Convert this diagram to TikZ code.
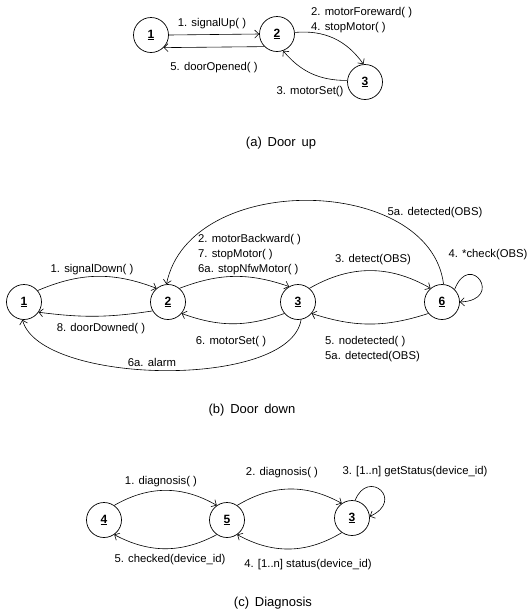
\documentclass[tikz,border=0pt]{standalone}
\usepackage{fontspec}
\setmainfont{Liberation Sans}
\usetikzlibrary{arrows.meta}
\tikzset{
  st/.style={circle, draw, line width=0.7pt, minimum size=35pt, inner sep=0pt, font=\fontsize{12}{12}\selectfont\bfseries},
  lbl/.style={font=\fontsize{11.3}{15}\selectfont, inner sep=0pt},
  captxt/.style={font=\fontsize{13}{15}\selectfont, inner sep=0pt},
  tr/.style={draw, line width=0.6pt, -{Straight Barb[length=4pt,width=8pt]}}
}
\newcommand{\sn}[1]{\underline{#1}}
\begin{document}
\begin{tikzpicture}[x=1pt,y=-1pt]
\useasboundingbox[fill=white] (0,0) rectangle (528,614);
% (a)
\node[st] (A1) at (151,35) {\sn{1}};
\node[st] (A2) at (277,34) {\sn{2}};
\node[st] (A3) at (365,82) {\sn{3}};
\draw[tr] (A1.east) -- (A2.west);
\draw[tr] (A2.-135) -- (A1.-45);
\draw[tr] (A2.5) to[bend left=30] (A3.95);
\draw[tr] (A3.175) to[bend left=25] (A2.-70);
\node[lbl] (la1) at (212,24) {1. signalUp( )};
\node[lbl] (la5) at (214,68) {5. doorOpened( )};
\node[lbl, anchor=west, align=left] (la2) at (311,20.5) {2. motorForeward( )\\4. stopMotor( )};
\node[lbl] (la3) at (310,92) {3. motorSet()};
\node[captxt] (capa) at (281,143) {(a)\, Door\, up};
% (b)
\node[st] (B1) at (24,302) {\sn{1}};
\node[st] (B2) at (168,302) {\sn{2}};
\node[st] (B3) at (298,302) {\sn{3}};
\node[st] (B6) at (442,302) {\sn{6}};
\draw[tr] (B1.40) to[bend left=22] (B2.130);
\draw[tr] (B2.-150) to[bend left=8] (B1.-35);
\draw[tr] (B3.-80) .. controls (290,390) and (40,385) .. (B1.-95);
\draw[tr] (B2.50) to[bend left=20] (B3.120);
\draw[tr] (B3.-140) to[bend left=20] (B2.-40);
\draw[tr] (B3.50) to[bend left=30] (B6.130);
\draw[tr] (B6.-140) to[bend left=18] (B3.-40);
\draw[tr] (B6.85) .. controls (430,175) and (190,170) .. (B2.95);
\draw[tr] (B6.45) .. controls (470,250) and (505,300) .. (B6.0);
\node[lbl] (lb1) at (92,270) {1. signalDown( )};
\node[lbl] (lb8) at (101,329) {8. doorDowned( )};
\node[lbl] (lb6a) at (152,362) {6a. alarm};
\node[lbl, anchor=west, align=left] (lb2) at (198,255) {2. motorBackward( )\\7. stopMotor( )\\6a. stopNfwMotor( )};
\node[lbl] (lb6) at (231,342) {6. motorSet( )};
\node[lbl] (lb3) at (373,260) {3. detect(OBS)};
\node[lbl, anchor=west, align=left] (lb5) at (325,349.5) {5. nodetected( )\\5a. detected(OBS)};
\node[lbl] (lb5a) at (435,213) {5a. detected(OBS)};
\node[lbl] (lb4) at (488,255) {4. *check(OBS)};
\node[captxt] (capb) at (252,410) {(b)\, Door\, down};
% (c)
\node[st] (C4) at (104,520) {\sn{4}};
\node[st] (C5) at (227,520) {\sn{5}};
\node[st] (C3) at (352,518) {\sn{3}};
\draw[tr] (C4.55) to[bend left=30] (C5.125);
\draw[tr] (C5.-125) to[bend left=28] (C4.-55);
\draw[tr] (C5.55) to[bend left=30] (C3.125);
\draw[tr] (C3.-125) to[bend left=30] (C5.-55);
\draw[tr] (C3.80) .. controls (368,468) and (405,500) .. (C3.5);
\node[lbl] (lc1) at (161,482) {1. diagnosis( )};
\node[lbl] (lc2) at (282,473) {2. diagnosis( )};
\node[lbl] (lc3) at (415,472) {3. [1..n] getStatus(device\_id)};
\node[lbl] (lc5) at (170,560) {5. checked(device\_id)};
\node[lbl] (lc4) at (308,565) {4. [1..n] status(device\_id)};
\node[captxt] (capc) at (273,603) {(c)\, Diagnosis};
\end{tikzpicture}
\end{document}
